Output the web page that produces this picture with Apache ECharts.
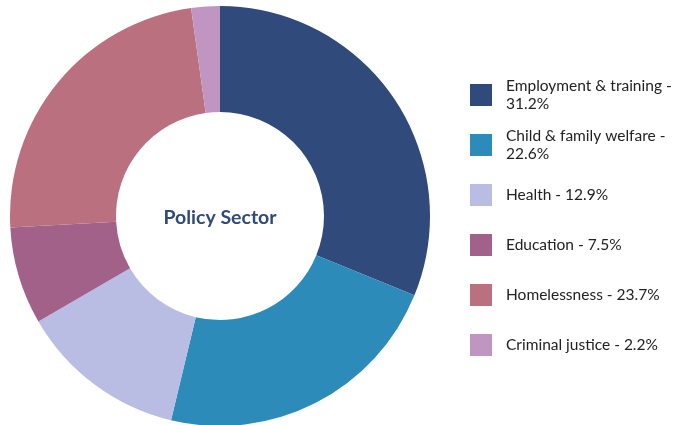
<!DOCTYPE html>
<html>
<head>
<meta charset="utf-8">
<script src="https://cdn.jsdelivr.net/npm/echarts@6/dist/echarts.min.js"></script>
<style>
  html, body { margin: 0; padding: 0; background: #fff; }
  #chart { width: 673px; height: 425px; }
</style>
</head>
<body>
<div id="chart"></div>
<script>
// Share of funding by policy sector (%)
const sectors = ['Employment & training', 'Child & family welfare', 'Health', 'Education', 'Homelessness', 'Criminal justice'];
const shares = [31.2, 22.6, 12.9, 7.5, 23.7, 2.2];
const colors = ['#2f4a7b', '#2d8bba', '#babde3', '#a16188', '#bb7080', '#c095c1'];
const legendNames = ['Employment & training -\n31.2%', 'Child & family welfare -\n22.6%', 'Health - 12.9%', 'Education - 7.5%', 'Homelessness - 23.7%', 'Criminal justice - 2.2%'];

const chart = echarts.init(document.getElementById('chart'), null, { renderer: 'canvas' });
const data = sectors.map((name, i) => ({
  name: name,
  value: shares[i],
  itemStyle: { color: colors[i] }
}));

chart.setOption({
  animation: false,
  backgroundColor: '#ffffff',
  legend: {
    orient: 'vertical',
    left: 470,
    top: 77,
    padding: 0,
    itemWidth: 22,
    itemHeight: 22,
    itemGap: 14,
    icon: 'rect',
    data: sectors,
    formatter: function (name) { return legendNames[sectors.indexOf(name)]; },
    textStyle: {
      fontFamily: 'Lato',
      fontSize: 15.5,
      color: '#222',
      lineHeight: 18,
      height: 36,
      padding: [0, 0, 0, 9]
    }
  },
  series: [{
    type: 'pie',
    center: [220, 216],
    radius: [104, 210],
    startAngle: 90,
    clockwise: true,
    label: { show: false },
    labelLine: { show: false },
    emphasis: { disabled: true },
    data: data
  }],
  graphic: [{
    type: 'text',
    x: 220,
    y: 218,
    style: {
      text: 'Policy Sector',
      align: 'center',
      verticalAlign: 'middle',
      fontFamily: 'Lato',
      fontWeight: 'bold',
      fontSize: 19.5,
      fill: '#2f4a7b'
    }
  }]
});
</script>
</body>
</html>
